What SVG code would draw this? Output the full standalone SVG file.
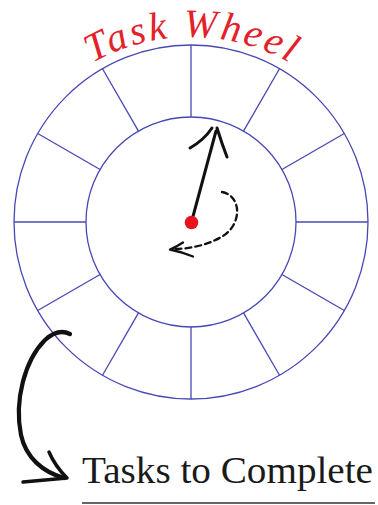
<svg xmlns="http://www.w3.org/2000/svg" width="378" height="505" viewBox="0 0 378 505">
<style>
.ring{fill:none;stroke:#4848b4;stroke-width:1.3}
.spoke{stroke:#4848b4;stroke-width:1.3}
.ink{fill:none;stroke:#111;stroke-linecap:round;stroke-linejoin:round}
</style>
<defs>
<path id="titleArc" d="M 16.1 138 A 202 202 0 0 1 365.9 138"/>
</defs>
<rect width="378" height="505" fill="#fff"/>
<g id="title">
<text font-family="Liberation Serif, serif" font-style="italic" font-size="40" fill="#e2212a"><textPath href="#titleArc" startOffset="50%" text-anchor="middle" textLength="206" lengthAdjust="spacing">Task Wheel</textPath></text>
</g>
<g id="wheel">
<circle class="ring" cx="191" cy="222" r="177"/>
<circle class="ring" cx="191" cy="222" r="105"/>
<line class="spoke" x1="191" y1="117" x2="191" y2="45"/>
<line class="spoke" x1="243.5" y1="131.07" x2="279.5" y2="68.71"/>
<line class="spoke" x1="281.93" y1="169.5" x2="344.29" y2="133.5"/>
<line class="spoke" x1="296" y1="222" x2="368" y2="222"/>
<line class="spoke" x1="281.93" y1="274.5" x2="344.29" y2="310.5"/>
<line class="spoke" x1="243.5" y1="312.93" x2="279.5" y2="375.29"/>
<line class="spoke" x1="191" y1="327" x2="191" y2="399"/>
<line class="spoke" x1="138.5" y1="312.93" x2="102.5" y2="375.29"/>
<line class="spoke" x1="100.07" y1="274.5" x2="37.71" y2="310.5"/>
<line class="spoke" x1="86" y1="222" x2="14" y2="222"/>
<line class="spoke" x1="100.07" y1="169.5" x2="37.71" y2="133.5"/>
<line class="spoke" x1="138.5" y1="131.07" x2="102.5" y2="68.71"/>
</g>
<g id="connectors">
<g id="hand">
<path class="ink" stroke-width="3" d="M 191.5 222 L 216 131"/>
<path class="ink" stroke-width="3" d="M 190 148 Q 204 140 212 128"/>
<path class="ink" stroke-width="3" d="M 217 128 Q 222 144 227 157"/>
</g>
<g id="rotation">
<path class="ink" stroke-width="2.3" stroke-dasharray="6 4" d="M 222 192 C 242 196, 242 224, 223 236 C 208 245, 190 249, 173 249"/>
<path class="ink" stroke-width="2.3" d="M 183 242.5 Q 176 247 170 249.5 Q 182 252 193 256.5"/>
</g>
<g id="toTasks">
<path class="ink" stroke-width="4.2" d="M 70 334 Q 58 328 45 340 C 25 360, 14 400, 21 435 C 26 458, 43 472, 64 478"/>
<path class="ink" stroke-width="3.5" d="M 49 452 Q 55 466 67 478 Q 45 480 23 482"/>
</g>
<circle cx="191.5" cy="222.5" r="6.8" fill="#e8141c"/>
</g>
<g id="tasks">
<text x="82" y="483" font-family="Liberation Serif, serif" font-size="38" fill="#1a1a1a" textLength="291" lengthAdjust="spacingAndGlyphs">Tasks to Complete</text>
<line x1="82" y1="503" x2="375" y2="503" stroke="#333" stroke-width="1.6"/>
</g>
</svg>
